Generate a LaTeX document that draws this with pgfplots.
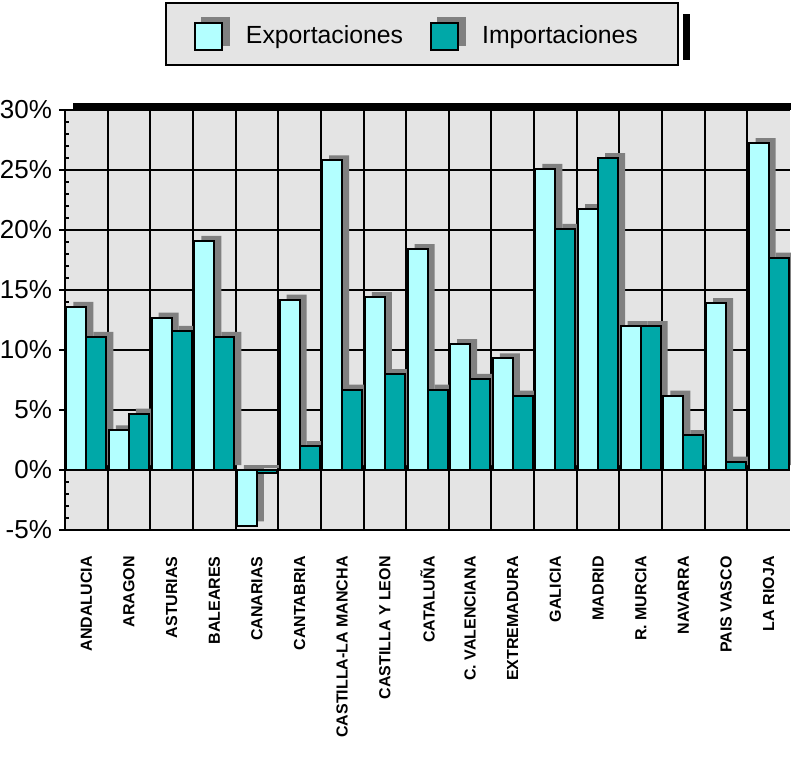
\documentclass[border=0pt]{standalone}
\usepackage{fontspec}
\setmainfont{Liberation Sans}
\usepackage{pgfplots}
\usepackage{pgfplotstable}
\pgfplotsset{compat=1.18}
\definecolor{expc}{HTML}{B3FFFF}
\definecolor{impc}{HTML}{00A8A8}
\definecolor{shad}{HTML}{808080}
\definecolor{bgc}{HTML}{E4E4E4}
\pgfplotstableread{
x exp imp
0 13.6 11.1
1 3.3 4.7
2 12.7 11.6
3 19.1 11.1
4 -4.7 -0.25
5 14.2 2.0
6 25.8 6.7
7 14.4 8.0
8 18.4 6.7
9 10.5 7.6
10 9.3 6.2
11 25.1 20.1
12 21.75 26.0
13 12.0 12.0
14 6.2 2.9
15 13.9 0.7
16 27.25 17.7
}\datatable
\begin{document}
\begin{tikzpicture}
\useasboundingbox (-32.5pt,-113pt) rectangle (363pt,265pt);
\begin{axis}[
  at={(0,0)}, anchor=south west,
  width=362.5pt, height=210pt, scale only axis,
  xmin=-0.5, xmax=16.5, ymin=-5, ymax=30,
  clip=false,
  axis background/.style={fill=bgc},
  axis x line*=bottom, axis y line*=left,
  axis line style={line width=1pt},
  xtick={0,...,16},
  xticklabels={ANDALUCIA, ARAGON, ASTURIAS, BALEARES, CANARIAS, CANTABRIA, CASTILLA-LA MANCHA, CASTILLA Y LEON, CATALUÑA, C. VALENCIANA, EXTREMADURA, GALICIA, MADRID, R. MURCIA, NAVARRA, PAIS VASCO, LA RIOJA},
  xticklabel style={rotate=90, anchor=east, font=\bfseries\fontsize{8}{9}\selectfont, inner sep=0pt},
  xticklabel shift=10pt,
  x tick style={draw=none},
  minor xtick={0.5,1.5,...,15.5},
  xminorgrids=true,
  minor x grid style={black, line width=1pt},
  ytick={-5,0,...,30},
  minor y tick num=4,
  ymajorgrids=true,
  major y grid style={black, line width=1pt},
  yticklabel={\pgfmathprintnumber{\tick}\%},
  yticklabel style={font=\fontsize{13}{15}\selectfont},
  /pgf/number format/assume math mode=true,
  y tick style={black, line width=0.8pt},
  tick align=outside, major tick length=3pt, minor tick length=2pt,
  minor y tick style={xshift=2pt},
  bar width=10pt,
  legend columns=2,
  legend style={at={(0.1379,1.1048)}, anchor=south west, fill=bgc, draw=black, line width=1pt,
    font=\fontsize{12.4}{14}\selectfont, inner xsep=14pt, inner ysep=7pt,
    /tikz/every even column/.append style={column sep=11.5pt}},
]
\addplot[ybar, bar shift=-5pt, fill=shad, draw=none, xshift=3.5pt, yshift=2.5pt, forget plot] table[x=x, y=exp] {\datatable};
\addplot[ybar, bar shift=5pt, fill=shad, draw=none, xshift=3.5pt, yshift=2.5pt, forget plot] table[x=x, y=imp] {\datatable};
\addplot[ybar, bar shift=-5pt, fill=expc, draw=black, line width=1pt,
  legend image code/.code={\path[draw=none, fill=none] (0pt,0pt) rectangle (23.5pt,1pt); \fill[shad] (3.5pt,-4pt) rectangle (17pt,9.5pt); \draw[fill=expc, draw=black, line width=1pt] (0pt,-6.5pt) rectangle (13.5pt,7pt);}] table[x=x, y=exp] {\datatable};
\addplot[ybar, bar shift=5pt, fill=impc, draw=black, line width=1pt,
  legend image code/.code={\path[draw=none, fill=none] (0pt,0pt) rectangle (23.5pt,1pt); \fill[shad] (3.5pt,-4pt) rectangle (17pt,9.5pt); \draw[fill=impc, draw=black, line width=1pt] (0pt,-6.5pt) rectangle (13.5pt,7pt);}] table[x=x, y=imp] {\datatable};
\legend{Exportaciones, Importaciones\rule{4pt}{0pt}}
\fill[black] (rel axis cs:0.0106,1) rectangle (rel axis cs:1.01,1.0175);
\fill[black] (rel axis cs:0.8524,1.119) rectangle (rel axis cs:0.8621,1.2286);
\end{axis}
\end{tikzpicture}
\end{document}
